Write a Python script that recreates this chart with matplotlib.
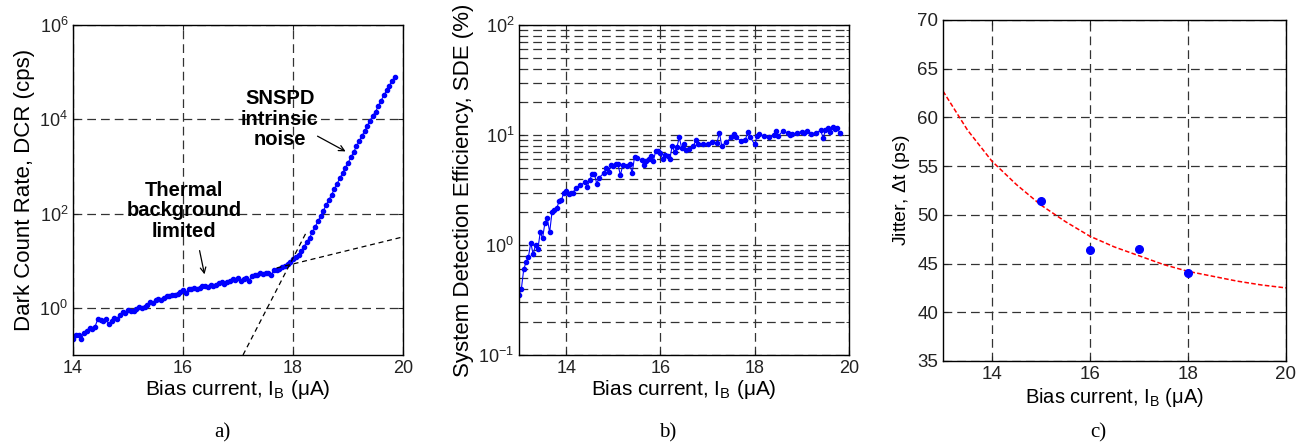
import numpy as np
import matplotlib
matplotlib.use("Agg")
import matplotlib.pyplot as plt
from matplotlib.ticker import LogLocator, FixedLocator

plt.rcParams['font.family'] = ['Liberation Sans', 'DejaVu Sans']
plt.rcParams['mathtext.fontset'] = 'custom'
plt.rcParams['mathtext.rm'] = 'Liberation Sans'
plt.rcParams['mathtext.it'] = 'Liberation Sans:italic'
plt.rcParams['mathtext.bf'] = 'Liberation Sans:bold'
plt.rcParams['mathtext.default'] = 'regular'

# ---- panel a: dark count rate vs bias current ----
dcr_bias = [14.00, 14.05, 14.10, 14.15, 14.20, 14.25, 14.30, 14.35, 14.40, 14.45,
            14.50, 14.55, 14.60, 14.65, 14.70, 14.75, 14.80, 14.85, 14.90, 14.95,
            15.00, 15.05, 15.10, 15.15, 15.20, 15.25, 15.30, 15.35, 15.40, 15.45,
            15.50, 15.55, 15.60, 15.65, 15.70, 15.75, 15.80, 15.85, 15.90, 15.95,
            16.00, 16.05, 16.10, 16.15, 16.20, 16.25, 16.30, 16.35, 16.40, 16.45,
            16.50, 16.55, 16.60, 16.65, 16.70, 16.75, 16.80, 16.85, 16.90, 16.95,
            17.00, 17.05, 17.10, 17.15, 17.20, 17.25, 17.30, 17.35, 17.40, 17.45,
            17.50, 17.55, 17.60, 17.65, 17.70, 17.75, 17.80, 17.85, 17.90, 17.95,
            18.00, 18.05, 18.10, 18.15, 18.20, 18.25, 18.30, 18.35, 18.40, 18.45,
            18.50, 18.55, 18.60, 18.65, 18.70, 18.75, 18.80, 18.85, 18.90, 18.95,
            19.00, 19.05, 19.10, 19.15, 19.20, 19.25, 19.30, 19.35, 19.40, 19.45,
            19.50, 19.55, 19.60, 19.65, 19.70, 19.75, 19.80, 19.85]
dcr_cps = [0.22, 0.26, 0.27, 0.22, 0.29, 0.33, 0.38, 0.36, 0.40, 0.58,
           0.55, 0.52, 0.57, 0.45, 0.52, 0.62, 0.58, 0.72, 0.80, 0.76,
           0.90, 0.86, 0.85, 0.95, 1.05, 0.98, 1.05, 1.15, 1.30, 1.25,
           1.45, 1.55, 1.50, 1.65, 1.75, 1.80, 1.85, 1.90, 2.00, 2.20,
           2.40, 2.10, 2.50, 2.45, 2.60, 2.55, 2.70, 2.85, 2.90, 2.80,
           3.00, 2.85, 3.00, 3.30, 3.60, 3.20, 3.50, 3.80, 4.00, 3.90,
           4.20, 3.80, 4.00, 4.40, 3.80, 4.80, 5.00, 4.90, 5.40, 5.20,
           5.60, 5.40, 5.00, 6.20, 6.50, 6.80, 7.20, 7.80, 8.50, 9.50,
           11.0, 12.0, 13.5, 16.0, 20.0, 25.0, 31.0, 40.0, 52.0, 68.0,
           88.0, 115, 150, 195, 250, 330, 430, 560, 720, 940,
           1200, 1550, 2000, 2650, 3400, 4400, 5600, 7300, 9400, 12000,
           14500, 19000, 25000, 32000, 41000, 52000, 65000, 80000]

# dashed guide lines (endpoints)
thermal_fit_x = [17.7, 20.0]
thermal_fit_y = [7.0, 32.0]
intrinsic_fit_x = [17.09, 18.25]
intrinsic_fit_y = [0.1, 42.0]

# ---- panel b: system detection efficiency ----
sde_bias = [13.00, 13.05, 13.10, 13.15, 13.20, 13.25, 13.30, 13.35, 13.40, 13.45,
            13.50, 13.55, 13.60, 13.65, 13.70, 13.75, 13.80, 13.85, 13.90, 13.95,
            14.00, 14.05, 14.10, 14.15, 14.20, 14.30, 14.40, 14.45, 14.50, 14.55,
            14.60, 14.65, 14.70, 14.80, 14.85, 14.90, 14.95, 15.00, 15.05, 15.10,
            15.15, 15.20, 15.30, 15.35, 15.40, 15.45, 15.50, 15.60, 15.65, 15.70,
            15.75, 15.80, 15.85, 15.90, 15.95, 16.00, 16.05, 16.10, 16.15, 16.20,
            16.25, 16.30, 16.35, 16.40, 16.45, 16.50, 16.55, 16.60, 16.70, 16.75,
            16.80, 16.90, 17.00, 17.10, 17.20, 17.25, 17.30, 17.40, 17.50, 17.55,
            17.60, 17.70, 17.80, 17.85, 17.90, 18.00, 18.05, 18.10, 18.20, 18.30,
            18.40, 18.45, 18.50, 18.60, 18.70, 18.75, 18.80, 18.90, 19.00, 19.05,
            19.10, 19.20, 19.30, 19.40, 19.45, 19.50, 19.55, 19.60, 19.65, 19.70,
            19.75, 19.80]
sde_pct = [0.35, 0.40, 0.60, 0.70, 0.78, 1.05, 0.82, 1.00, 0.92, 1.30,
           1.15, 1.60, 1.75, 1.30, 2.00, 2.10, 2.15, 2.50, 2.55, 3.00,
           3.10, 2.90, 3.00, 3.00, 3.30, 3.50, 3.70, 3.40, 3.90, 4.40,
           4.40, 3.60, 4.10, 4.50, 5.00, 4.60, 5.30, 5.20, 5.50, 5.40,
           4.30, 5.30, 5.20, 5.50, 4.50, 6.30, 6.20, 5.90, 5.30, 5.80,
           6.10, 6.50, 5.80, 7.20, 7.10, 6.80, 6.00, 6.60, 6.40, 6.10,
           8.00, 7.00, 7.80, 9.50, 7.60, 8.20, 7.30, 7.50, 7.90, 9.00,
           8.20, 8.30, 8.30, 8.60, 8.50, 10.5, 8.00, 8.60, 9.50, 10.3,
           9.50, 8.90, 9.00, 10.6, 9.60, 8.20, 9.80, 10.3, 9.70, 9.50,
           9.90, 10.8, 9.80, 10.9, 10.4, 9.90, 10.2, 10.5, 10.7, 10.4,
           10.9, 10.3, 10.5, 11.0, 9.40, 11.0, 11.6, 10.6, 11.8, 11.3,
           11.6, 10.5]

# ---- panel c: timing jitter ----
jit_bias = [15, 16, 17, 18]
jit_ps = [51.4, 46.4, 46.5, 44.0]
jit_fit_x = [13.0, 13.5, 14.0, 14.5, 15.0, 15.5, 16.0, 16.5, 17.0, 17.5,
             18.0, 18.5, 19.0, 19.5, 20.0]
jit_fit_y = [62.7, 58.7, 55.5, 53.1, 51.0, 49.3, 47.8, 46.7, 45.8, 44.9,
             44.2, 43.7, 43.2, 42.8, 42.5]

xlabel = 'Bias current, I$_{B}$ ($\\mu$A)'
blue = '#0000ff'
grid_kw = dict(color='#333333', linestyle=(0, (7, 4)), linewidth=0.9)

fig = plt.figure(figsize=(13.07, 4.44), dpi=100)

# panel a
ax1 = fig.add_axes([0.0559, 0.2005, 0.2525, 0.7432])
ax1.semilogy(dcr_bias, dcr_cps, '.-', color=blue, markersize=6, linewidth=0.8)
ax1.plot(thermal_fit_x, thermal_fit_y, '--', color='black', linewidth=0.9, dashes=(4, 3))
ax1.plot(intrinsic_fit_x, intrinsic_fit_y, '--', color='black', linewidth=0.9, dashes=(4, 3))
ax1.set_xlim(14, 20)
ax1.set_ylim(1e-1, 1e6)
ax1.set_xticks([14, 16, 18, 20])
ax1.yaxis.set_major_locator(FixedLocator([1e0, 1e2, 1e4, 1e6]))
ax1.yaxis.set_minor_locator(FixedLocator([]))
ax1.set_ylabel('Dark Count Rate, DCR (cps)', fontsize=16, labelpad=3)
ax1.set_xlabel(xlabel, fontsize=15, labelpad=1)
ax1.grid(True, which='major', **grid_kw)
ax1.text(17.76, 1e4, 'SNSPD\nintrinsic\nnoise', ha='center', va='center',
         fontsize=14.5, fontweight='bold', linespacing=1.1)
ax1.annotate('', xy=(19.0, 10**3.29), xytext=(18.4, 10**3.67),
             arrowprops=dict(arrowstyle='->', color='black', lw=0.9))
ax1.text(16.02, 115, 'Thermal\nbackground\nlimited', ha='center', va='center',
         fontsize=14.5, fontweight='bold', linespacing=1.1)
ax1.annotate('', xy=(16.4, 4.5), xytext=(16.29, 18.7),
             arrowprops=dict(arrowstyle='->', color='black', lw=0.9))

# panel b
ax2 = fig.add_axes([0.3971, 0.2005, 0.2525, 0.7432])
ax2.semilogy(sde_bias, sde_pct, '.-', color=blue, markersize=6, linewidth=0.8)
ax2.set_xlim(13, 20)
ax2.set_ylim(1e-1, 1e2)
ax2.set_xticks([14, 16, 18, 20])
ax2.yaxis.set_major_locator(LogLocator(base=10, numticks=10))
ax2.yaxis.set_minor_locator(LogLocator(base=10, subs=np.arange(2, 10), numticks=20))
ax2.set_ylabel('System Detection Efficiency, SDE (%)', fontsize=16, labelpad=3)
ax2.set_xlabel(xlabel, fontsize=15, labelpad=1)
ax2.grid(True, which='both', **grid_kw)

# panel c
ax3 = fig.add_axes([0.7215, 0.187, 0.2624, 0.768])
ax3.plot(jit_fit_x, jit_fit_y, color='red', linestyle=(0, (3, 1.5)), linewidth=1.1)
ax3.plot(jit_bias, jit_ps, 'o', color=blue, markersize=5.5)
ax3.set_xlim(13, 20)
ax3.set_ylim(35, 70)
ax3.set_xticks([14, 16, 18, 20])
ax3.set_yticks(np.arange(35, 71, 5))
ax3.set_ylabel('Jitter, $\\Delta$t (ps)', fontsize=14)
ax3.set_xlabel(xlabel, fontsize=14.5, labelpad=2)
ax3.grid(True, which='major', **grid_kw)

for ax, fs in ((ax1, 13), (ax2, 13), (ax3, 13.5)):
    ax.tick_params(which='both', direction='in', labelsize=fs, colors='#222222',
                   top=True, right=True)
    ax.tick_params(which='minor', length=2)
    ax.set_axisbelow(True)
    for s in ax.spines.values():
        s.set_linewidth(1.0)

serif = ['Liberation Serif', 'DejaVu Serif']
fig.text(0.170, 0.026, 'a)', ha='center', va='center', fontsize=15, family=serif)
fig.text(0.511, 0.026, 'b)', ha='center', va='center', fontsize=15, family=serif)
fig.text(0.840, 0.026, 'c)', ha='center', va='center', fontsize=15, family=serif)

fig.savefig('out.png', dpi=100)
